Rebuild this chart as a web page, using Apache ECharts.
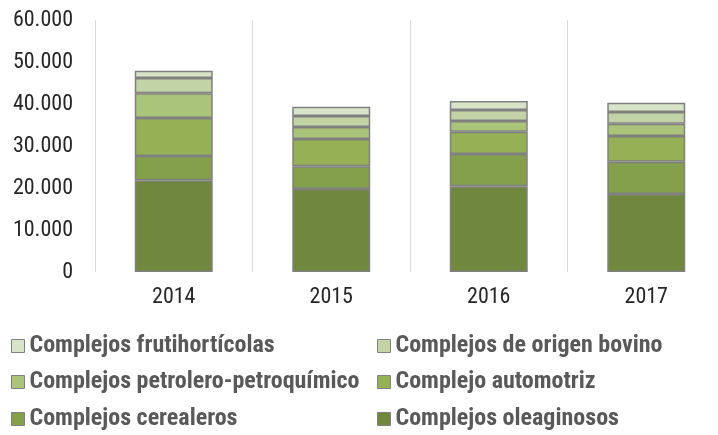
<!DOCTYPE html>
<html><head><meta charset="utf-8">
<script src="https://cdn.jsdelivr.net/npm/echarts@6/dist/echarts.min.js"></script>
<style>html,body{margin:0;padding:0;background:#fff}#c{width:718px;height:435px}</style>
</head><body><div id="c"></div>
<script>
const categories = ['2014', '2015', '2016', '2017'];
const seriesNames = ['Complejos oleaginosos', 'Complejos cerealeros', 'Complejo automotriz', 'Complejos petrolero-petroquímico', 'Complejos de origen bovino', 'Complejos frutihortícolas'];
const oleaginosos = [21830, 19760, 20400, 18570];
const cerealeros = [5790, 5400, 7690, 7690];
const automotriz = [9050, 6500, 5310, 6120];
const petrolero = [5880, 2860, 2550, 2930];
const bovino = [3640, 2620, 2620, 2780];
const frutihorticolas = [1740, 2210, 2140, 2210];
const yTicks = [0, 10000, 20000, 30000, 40000, 50000, 60000];

const values = [oleaginosos, cerealeros, automotriz, petrolero, bovino, frutihorticolas];
const colors = ['#70883e', '#84a04a', '#95b055', '#aac47a', '#c2d4a6', '#d8e4c8'];
const FONT = '"Roboto Condensed","Liberation Sans Narrow","DejaVu Sans Condensed",Roboto,sans-serif';

const legendPos = {
  'Complejos frutihortícolas': [11, 346],
  'Complejos de origen bovino': [377, 346],
  'Complejos petrolero-petroquímico': [11, 382],
  'Complejo automotriz': [377, 382],
  'Complejos cerealeros': [11, 419],
  'Complejos oleaginosos': [377, 419]
};

const chart = echarts.init(document.getElementById('c'), null, {renderer: 'canvas'});
chart.setOption({
  animation: false,
  textStyle: {fontFamily: FONT},
  grid: {left: 95, right: -7, top: 20, bottom: 163, outerBoundsMode: 'none', containLabel: false},
  xAxis: {
    type: 'category', data: categories,
    axisLine: {show: false}, axisTick: {show: false},
    axisLabel: {color: '#262626', fontSize: 22, margin: 14, fontFamily: FONT},
    splitLine: {show: true, lineStyle: {color: '#d9d9d9', width: 1}}
  },
  yAxis: {
    type: 'value', min: 0, max: 60000, interval: 10000,
    axisLine: {show: false}, axisTick: {show: false}, splitLine: {show: false},
    axisLabel: {color: '#262626', fontSize: 22, margin: 22, fontFamily: FONT,
      formatter: v => yTicks.includes(v) ? (v === 0 ? '0' : v.toLocaleString('de-DE')) : ''}
  },
  legend: seriesNames.map(n => ({
    data: [n], left: legendPos[n][0], top: legendPos[n][1] - 13,
    padding: 0,
    itemWidth: 13, itemHeight: 13,
    icon: 'rect',
    itemStyle: {borderColor: '#808080', borderWidth: 1},
    textStyle: {color: '#595959', fontSize: 24, fontWeight: 'bold', fontFamily: FONT, lineHeight: 26}
  })),
  series: seriesNames.map((n, i) => ({
    name: n, type: 'bar', stack: 'total', data: values[i],
    barWidth: '49.5%',
    itemStyle: {color: colors[i], borderColor: '#808080', borderWidth: 1.5}
  }))
});
</script></body></html>
